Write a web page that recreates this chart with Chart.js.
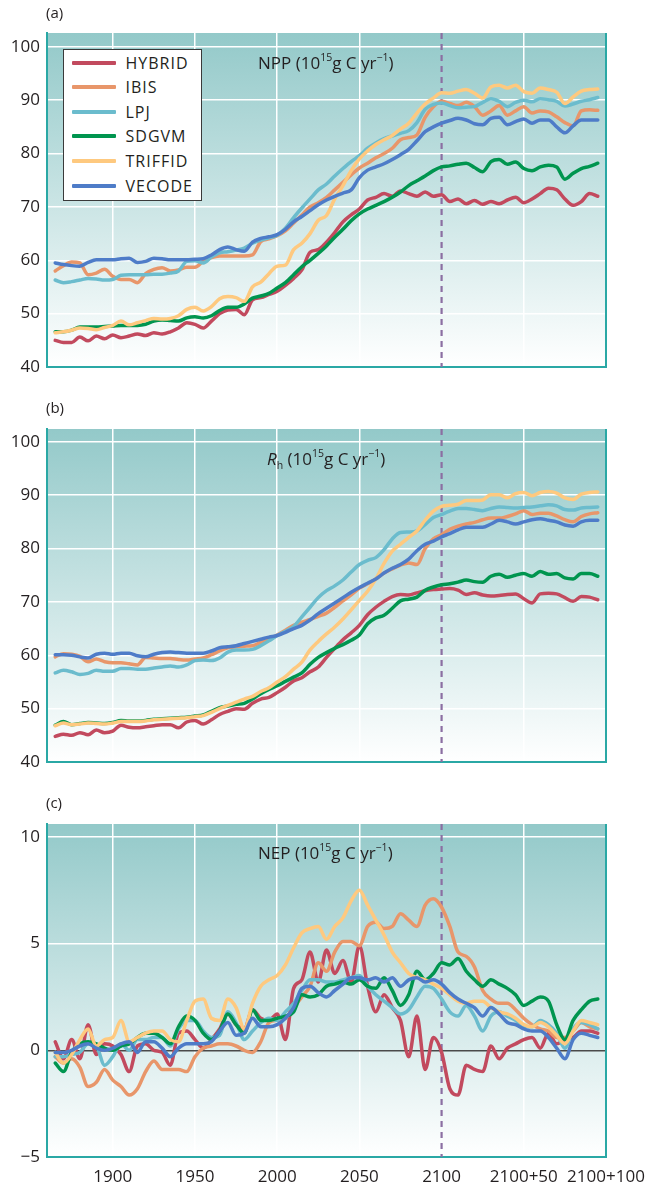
<!DOCTYPE html>
<html><head><meta charset="utf-8">
<script src="https://cdn.jsdelivr.net/npm/chart.js@4.4.0/dist/chart.umd.min.js"></script>
<style>
html,body{margin:0;padding:0;background:#fff;}
body{width:658px;height:1183px;position:relative;overflow:hidden;font-family:"Open Sans",sans-serif;color:#231f20;}
canvas{position:absolute;left:0;}
.plabel{position:absolute;left:46px;font-size:15px;line-height:18px;}
.ptitle{position:absolute;font-size:17px;line-height:20px;white-space:nowrap;}
.ptitle sup{font-size:10.5px;line-height:0;position:relative;top:-1px;}
.ptitle sub{font-size:10.5px;line-height:0;}
#legend{position:absolute;left:63px;top:49px;width:139px;height:152px;background:#fff;border:1.5px solid #3a3a3a;box-sizing:border-box;}
.lrow{position:absolute;left:0;width:130px;height:20px;}
.lsw{position:absolute;left:7.5px;top:8px;width:44px;height:4px;border-radius:1px;}
.ltx{position:absolute;left:61.5px;top:0;font-size:16px;line-height:20px;letter-spacing:1px;}
</style></head>
<body>
<canvas id="ca" width="658" height="395" style="top:0px;width:658px;height:395px"></canvas>
<canvas id="cb" width="658" height="390" style="top:395px;width:658px;height:390px"></canvas>
<canvas id="cc" width="658" height="398" style="top:785px;width:658px;height:398px"></canvas>
<div class="plabel" style="top:3px">(a)</div>
<div class="plabel" style="top:398px">(b)</div>
<div class="plabel" style="top:793px">(c)</div>
<div class="ptitle" style="left:258px;top:53px">NPP (10<sup>15</sup>g C yr<sup>−1</sup>)</div>
<div class="ptitle" style="left:267px;top:449px"><i>R</i><sub>h</sub> (10<sup>15</sup>g C yr<sup>−1</sup>)</div>
<div class="ptitle" style="left:258px;top:843px">NEP (10<sup>15</sup>g C yr<sup>−1</sup>)</div>
<div id="legend"></div>
<script>
// ---- data ----
const years = [1865,1870,1875,1880,1885,1890,1895,1900,1905,1910,
 1915,1920,1925,1930,1935,1940,1945,1950,1955,1960,
 1965,1970,1975,1980,1985,1990,1995,2000,2005,2010,
 2015,2020,2025,2030,2035,2040,2045,2050,2055,2060,
 2065,2070,2075,2080,2085,2090,2095,2100,2105,2110,
 2115,2120,2125,2130,2135,2140,2145,2150,2155,2160,
 2165,2170,2175,2180,2185,2190,2195];

const seriesNames = ['HYBRID','IBIS','LPJ','SDGVM','TRIFFID','VECODE'];
const seriesColors = ['#c24a5e','#e8966a','#6bbccd','#00954f','#fec97f','#4e7cc8'];

const tickValues = [1900,1950,2000,2050,2100,2150,2200];
const tickLabels = ['1900','1950','2000','2050','2100','2100+50','2100+100'];

// (a) NPP
const hybridNPP = [45.0,44.6,44.6,45.6,44.9,45.8,45.3,46.0,45.5,45.8,
 46.2,45.9,46.4,46.2,46.6,47.3,48.3,48.0,47.3,48.6,
 50.0,50.7,50.8,49.8,52.6,53.0,53.6,54.2,55.3,56.6,
 58.2,61.5,62.0,63.4,65.2,67.2,68.5,69.6,71.3,71.8,
 72.5,72.0,73.0,72.5,72.0,72.8,72.0,72.3,71.0,71.5,
 70.6,71.2,70.5,71.0,70.6,71.3,71.8,70.8,71.5,72.5,
 73.5,73.2,71.5,70.3,71.0,72.5,72.0];
const ibisNPP = [58.0,59.0,59.7,59.5,57.3,57.6,58.3,57.0,56.4,56.4,
 55.8,57.5,58.3,58.6,58.0,58.2,58.7,58.7,59.8,60.5,
 60.8,60.8,60.8,60.8,61.0,63.5,64.0,64.6,65.5,67.0,
 68.5,70.0,70.8,71.8,73.2,74.6,76.0,77.3,78.2,79.2,
 80.0,81.0,82.6,83.0,83.5,86.8,88.8,89.8,89.4,89.0,
 89.6,88.8,87.2,88.0,89.0,87.2,88.0,88.8,87.6,88.0,
 87.8,86.9,85.8,85.2,88.0,88.2,88.1];
const lpjNPP = [56.3,55.8,56.0,56.3,56.6,56.5,56.3,56.4,57.2,57.3,
 57.3,57.3,57.4,57.4,57.6,58.0,59.8,59.9,59.5,60.6,
 61.4,61.6,61.9,62.3,63.2,63.8,64.2,64.7,66.0,68.0,
 69.8,71.5,73.2,74.3,75.8,77.2,78.5,79.6,81.0,82.0,
 82.8,83.3,83.8,84.3,85.8,88.3,89.2,89.5,89.0,88.6,
 88.7,88.8,89.6,90.3,89.8,88.8,89.6,90.0,89.7,90.3,
 90.1,89.8,88.9,89.3,89.8,90.1,90.5];
const sdgvmNPP = [46.6,46.6,46.9,47.5,47.5,47.5,47.6,47.7,47.8,47.8,
 47.8,48.0,48.6,48.8,48.7,48.6,49.2,49.4,49.2,49.6,
 50.6,51.2,51.2,51.8,52.9,53.3,53.8,54.8,55.8,57.3,
 58.8,60.0,61.3,62.7,64.3,65.8,67.4,68.7,69.6,70.3,
 71.0,71.8,72.8,74.0,74.9,75.8,76.8,77.5,77.7,78.0,
 78.2,77.4,76.6,78.5,78.9,78.0,78.4,77.2,76.8,77.5,
 77.8,77.5,75.2,76.3,77.2,77.6,78.2];
const triffidNPP = [46.4,46.6,46.9,47.3,47.2,47.0,47.4,47.8,48.6,47.9,
 48.3,48.7,49.1,49.0,49.1,49.6,50.8,51.2,50.5,51.3,
 52.8,53.2,53.0,52.3,55.0,55.9,57.5,58.9,59.1,62.0,
 63.2,65.0,67.5,68.4,71.5,74.0,76.8,79.0,80.5,81.7,
 82.6,83.4,84.6,85.7,87.6,89.3,90.4,91.4,91.3,91.7,
 92.0,91.3,90.4,92.5,92.8,92.3,92.8,91.6,91.3,92.3,
 92.0,91.5,89.4,90.6,91.7,92.0,92.1];
const vecodeNPP = [59.5,59.2,59.0,58.9,59.6,60.1,60.1,60.1,60.3,60.4,
 59.6,59.8,60.4,60.3,60.1,60.1,60.1,60.2,60.3,61.0,
 62.0,62.5,62.0,61.7,63.4,64.1,64.4,64.8,65.8,67.2,
 68.2,69.3,70.4,71.3,72.0,72.6,73.2,75.5,76.9,77.5,
 78.1,78.9,79.8,80.8,82.4,84.1,85.0,85.7,86.2,86.6,
 86.3,85.6,85.4,86.6,86.8,85.4,86.0,86.5,85.7,86.3,
 86.3,85.0,83.9,85.2,86.3,86.3,86.3];

// (b) Rh
const hybridRh = [44.8,45.2,45.0,45.5,45.1,46.0,45.5,45.8,46.9,46.5,
 46.4,46.6,46.8,47.0,47.0,46.4,47.5,47.8,47.1,47.9,
 48.9,49.5,50.0,49.9,51.0,51.8,52.1,53.0,54.0,55.2,
 55.8,56.9,57.8,59.6,61.3,62.9,64.2,65.6,67.6,69.0,
 70.1,71.0,71.4,71.3,71.7,72.1,72.3,72.4,72.5,72.2,
 71.4,71.7,71.3,71.1,71.2,71.4,71.5,70.6,69.8,71.5,
 71.6,71.5,70.8,70.1,71.0,70.9,70.4];
const ibisRh = [59.7,60.3,60.2,59.8,58.8,59.3,58.8,58.6,58.6,58.4,
 58.2,59.6,59.5,59.4,59.4,59.2,59.1,59.3,59.5,60.1,
 60.8,61.4,61.6,61.7,61.8,62.4,62.9,63.8,64.7,65.6,
 66.2,66.7,67.3,67.9,69.0,70.2,71.3,72.6,73.4,74.3,
 75.4,76.2,76.9,77.3,77.0,80.0,81.8,82.6,83.6,84.2,
 84.6,84.9,85.4,85.7,85.7,86.0,86.5,87.1,86.4,86.6,
 86.6,86.1,85.4,85.0,86.0,86.5,86.7];
const lpjRh = [56.7,57.2,56.9,56.4,56.6,57.2,57.0,57.0,57.5,57.5,
 57.4,57.4,57.6,57.8,58.0,57.8,58.2,59.0,59.1,59.0,
 59.5,60.6,61.0,61.0,61.1,61.8,62.7,63.7,64.5,65.4,
 67.2,69.0,70.8,72.1,73.0,74.1,75.6,77.0,77.8,78.3,
 79.8,81.8,83.0,83.1,83.3,84.5,85.8,86.4,87.0,87.5,
 87.5,87.3,87.1,87.5,87.8,87.7,87.6,87.7,87.8,88.0,
 88.2,88.0,87.3,87.2,87.6,87.7,87.8];
const sdgvmRh = [46.9,47.6,47.0,47.2,47.4,47.3,47.2,47.4,47.8,47.7,
 47.7,47.8,48.0,48.1,48.2,48.3,48.4,48.6,48.8,49.5,
 50.2,50.5,50.8,51.0,51.8,52.8,53.6,54.3,55.1,55.9,
 56.7,58.3,59.6,60.5,61.3,62.0,62.8,63.8,65.9,67.0,
 67.5,68.8,70.2,70.5,70.9,72.2,72.8,73.2,73.4,73.7,
 74.1,73.8,73.7,74.8,75.2,74.6,75.0,75.3,74.8,75.7,
 75.2,75.3,74.5,74.3,75.3,75.3,74.8];
const triffidRh = [46.8,47.3,47.0,47.1,47.3,47.2,47.1,47.3,47.6,47.6,
 47.6,47.7,47.9,48.0,48.1,48.2,48.3,48.5,48.7,49.3,
 50.0,50.6,51.2,51.8,52.3,53.2,53.9,55.0,56.0,57.4,
 58.7,61.0,62.6,64.0,65.3,66.8,68.5,70.3,72.0,74.3,
 77.2,79.5,80.8,82.1,83.3,85.3,87.0,87.9,88.1,88.3,
 89.0,89.0,89.1,90.1,90.1,89.5,90.3,90.5,89.9,90.5,
 90.7,90.4,89.5,89.2,90.2,90.5,90.6];
const vecodeRh = [60.1,60.1,60.0,59.7,59.5,60.2,60.4,60.2,60.4,60.4,
 59.9,59.7,60.2,60.5,60.6,60.5,60.4,60.4,60.4,60.8,
 61.4,61.6,61.8,62.2,62.6,63.0,63.4,63.7,64.3,65.0,
 65.6,66.6,67.8,68.8,69.8,70.8,71.8,72.7,73.5,74.3,
 75.4,76.3,77.0,78.0,79.6,80.8,81.4,82.2,82.8,83.5,
 84.0,84.0,84.0,84.6,85.3,85.0,84.6,85.0,85.4,85.6,
 85.3,85.0,84.4,84.2,85.0,85.3,85.3];

// (c) NEP
const hybridNEP = [0.4,-0.4,0.5,-0.4,1.2,-0.2,0.3,0.2,-0.2,-1.0,
 0.2,0.3,0.0,-0.1,-0.7,0.8,0.9,0.5,0.1,0.5,
 1.0,1.7,1.2,1.0,1.9,1.5,1.4,1.7,0.5,2.9,
 3.3,4.6,3.2,4.7,3.6,4.2,3.2,4.9,3.0,1.8,
 2.6,2.0,1.4,-0.3,1.6,-0.9,0.6,-0.1,-1.8,-2.1,
 -0.7,-0.9,-1.0,0.2,-0.4,0.1,0.3,0.5,0.6,0.1,
 0.8,0.3,0.5,0.6,0.9,0.9,0.8];
const ibisNEP = [-0.3,-0.6,-0.4,-0.8,-1.7,-1.5,-0.9,-1.4,-1.7,-2.1,
 -1.8,-1.0,-0.5,-0.9,-0.9,-0.9,-1.0,-0.3,0.1,0.2,
 0.3,0.3,0.2,0.0,-0.1,0.4,1.3,1.4,1.5,2.0,
 2.5,3.0,4.1,3.7,4.6,5.1,5.1,4.9,5.8,6.0,
 5.7,5.8,6.4,6.1,5.8,6.8,7.1,6.7,5.8,4.6,
 4.4,3.9,2.8,2.4,2.2,2.2,1.9,1.5,1.2,1.0,
 0.9,0.6,0.6,0.9,1.3,1.1,1.0];
const lpjNEP = [-0.3,-0.3,-0.2,-0.1,0.3,0.2,-0.7,-0.3,0.3,0.0,
 0.5,0.5,0.6,0.6,0.2,1.0,1.4,1.4,0.9,0.6,
 0.7,1.8,1.3,0.5,0.9,1.3,1.5,1.4,1.8,2.2,
 2.8,3.3,3.3,3.2,3.2,3.3,3.4,3.5,3.0,2.6,
 2.3,2.0,1.7,1.9,2.5,3.0,2.9,2.4,1.8,1.6,
 2.1,1.6,0.9,1.6,1.8,1.6,1.4,1.1,1.1,1.4,
 1.2,0.8,0.1,1.0,1.3,1.2,1.0];
const sdgvmNEP = [-0.6,-1.0,-0.1,0.3,0.4,0.3,0.1,0.0,0.2,0.3,
 0.6,0.8,0.8,0.6,0.3,1.1,1.6,1.4,0.8,0.5,
 0.9,1.7,1.2,0.8,1.9,1.4,1.4,1.5,1.6,1.8,
 2.6,2.5,2.6,3.0,3.1,3.2,3.1,3.3,3.0,2.9,
 3.4,2.8,2.1,2.6,3.7,3.3,3.6,4.1,4.0,4.3,
 3.7,3.3,3.0,3.3,3.1,2.9,2.6,2.1,2.3,2.5,
 2.3,1.2,0.5,1.4,1.9,2.3,2.4];
const triffidNEP = [-0.1,-0.6,-0.2,0.5,1.0,0.2,0.5,0.6,1.4,0.4,
 0.6,0.8,0.9,0.9,0.5,0.4,1.4,2.3,2.4,1.5,
 1.4,2.4,2.0,1.0,2.2,3.0,3.3,3.5,4.0,4.8,
 5.5,5.7,5.8,5.2,5.8,6.2,7.0,7.5,6.8,6.1,
 5.4,4.6,4.1,3.6,3.4,3.3,3.1,2.9,2.6,2.3,
 2.2,2.3,2.3,2.0,1.8,1.7,1.5,1.2,1.1,1.3,
 1.1,0.7,0.3,0.9,1.4,1.3,1.2];
const vecodeNEP = [-0.1,-0.1,0.0,0.2,0.3,0.1,0.0,0.1,0.3,0.4,
 -0.1,0.4,0.4,0.1,-0.3,0.1,0.3,0.3,0.3,0.4,
 0.9,1.3,0.7,0.8,1.5,1.1,1.1,1.2,1.5,2.0,
 2.9,3.0,2.7,2.5,2.8,3.1,3.4,3.4,3.3,3.4,
 3.2,3.4,3.0,3.3,3.4,3.2,3.3,3.1,2.7,2.4,
 2.2,2.0,1.6,2.0,1.7,1.3,1.2,1.0,0.9,0.9,
 0.6,0.1,-0.4,0.5,0.8,0.7,0.6];

// ---- drawing ----
const TEAL = '#2aa8a5';
const TXT = '#231f20';
const FONT = '"Open Sans", sans-serif';

const panelPlugin = {
  id: 'panel',
  beforeDraw(chart) {
    const {ctx, chartArea: a} = chart;
    const g = ctx.createLinearGradient(0, a.top, 0, a.bottom);
    g.addColorStop(0, '#93c9c9');
    g.addColorStop(1, '#ffffff');
    ctx.save();
    ctx.fillStyle = g;
    ctx.fillRect(a.left, a.top, a.right - a.left, a.bottom - a.top);
    ctx.restore();
  },
  beforeDatasetsDraw(chart) {
    const {ctx, chartArea: a} = chart;
    const x = chart.scales.x.getPixelForValue(2100);
    ctx.save();
    ctx.strokeStyle = '#8b6fa2';
    ctx.lineWidth = 2.2;
    ctx.setLineDash([6, 5]);
    ctx.beginPath();
    ctx.moveTo(x, a.top);
    ctx.lineTo(x, a.bottom);
    ctx.stroke();
    ctx.restore();
  },
  afterDraw(chart) {
    const {ctx, chartArea: a} = chart;
    ctx.save();
    ctx.strokeStyle = TEAL;
    ctx.lineWidth = 2;
    ctx.beginPath();
    ctx.moveTo(a.right, a.top);
    ctx.lineTo(a.right, a.bottom + 1);
    ctx.stroke();
    ctx.restore();
  }
};

function buildChart(id, vals, yMin, yMax, yStep, padTop, xH, showX, zeroLine) {
  const datasets = seriesNames.map((n, i) => ({
    label: n,
    data: years.map((yr, j) => ({x: yr, y: vals[i][j]})),
    borderColor: seriesColors[i],
    backgroundColor: seriesColors[i],
    borderWidth: 3.5,
    pointRadius: 0,
    fill: false,
    cubicInterpolationMode: 'monotone',
    borderCapStyle: 'round',
    borderJoinStyle: 'round',
    order: seriesNames.length - i
  }));
  return new Chart(document.getElementById(id), {
    type: 'line',
    data: {datasets},
    plugins: [panelPlugin],
    options: {
      responsive: false, animation: false, devicePixelRatio: 1,
      layout: {padding: {top: padTop, right: 52, left: 0, bottom: 0}},
      plugins: {legend: {display: false}, tooltip: {enabled: false}},
      scales: {
        x: {
          type: 'linear', min: 1860, max: 2200,
          afterBuildTicks: s => { s.ticks = tickValues.map(v => ({value: v})); },
          afterFit: s => { s.height = xH; },
          grid: {
            color: c => (c.tick && (c.tick.value === 2100 || c.tick.value === 2200)) ? 'rgba(0,0,0,0)' : '#ffffff',
            lineWidth: 1.5, drawTicks: false
          },
          border: {display: true, color: TEAL, width: 2},
          ticks: {
            display: showX, padding: 10, maxRotation: 0, autoSkip: false,
            color: TXT, font: {family: FONT, size: 17},
            callback: v => tickLabels[tickValues.indexOf(v)]
          }
        },
        y: {
          min: yMin, max: yMax,
          afterFit: s => { s.width = 47; },
          grid: {
            color: c => {
              const v = c.tick ? c.tick.value : null;
              if (v === yMin) return 'rgba(0,0,0,0)';
              if (zeroLine && v === 0) return '#4a4a4a';
              return '#ffffff';
            },
            lineWidth: 1.5, drawTicks: false
          },
          border: {display: true, color: TEAL, width: 2},
          ticks: {
            stepSize: yStep, includeBounds: false, padding: 7,
            color: TXT, font: {family: FONT, size: 17},
            callback: v => (v < 0 ? '\u2212' + Math.abs(v) : String(v))
          }
        }
      }
    }
  });
}

buildChart('ca', [hybridNPP, ibisNPP, lpjNPP, sdgvmNPP, triffidNPP, vecodeNPP], 40, 102.6, 10, 33, 28, false, false);
buildChart('cb', [hybridRh, ibisRh, lpjRh, sdgvmRh, triffidRh, vecodeRh], 40, 102.4, 10, 34, 23, false, false);
buildChart('cc', [hybridNEP, ibisNEP, lpjNEP, sdgvmNEP, triffidNEP, vecodeNEP], -5, 10.6, 5, 39, 26, true, true);

// legend
const leg = document.getElementById('legend');
seriesNames.forEach((n, i) => {
  const row = document.createElement('div');
  row.className = 'lrow';
  row.style.top = (12.5 + i * 24.6 - 10) + 'px';
  const sw = document.createElement('span');
  sw.className = 'lsw';
  sw.style.background = seriesColors[i];
  const tx = document.createElement('span');
  tx.className = 'ltx';
  tx.textContent = n;
  row.appendChild(sw); row.appendChild(tx);
  leg.appendChild(row);
});
</script>
</body></html>
